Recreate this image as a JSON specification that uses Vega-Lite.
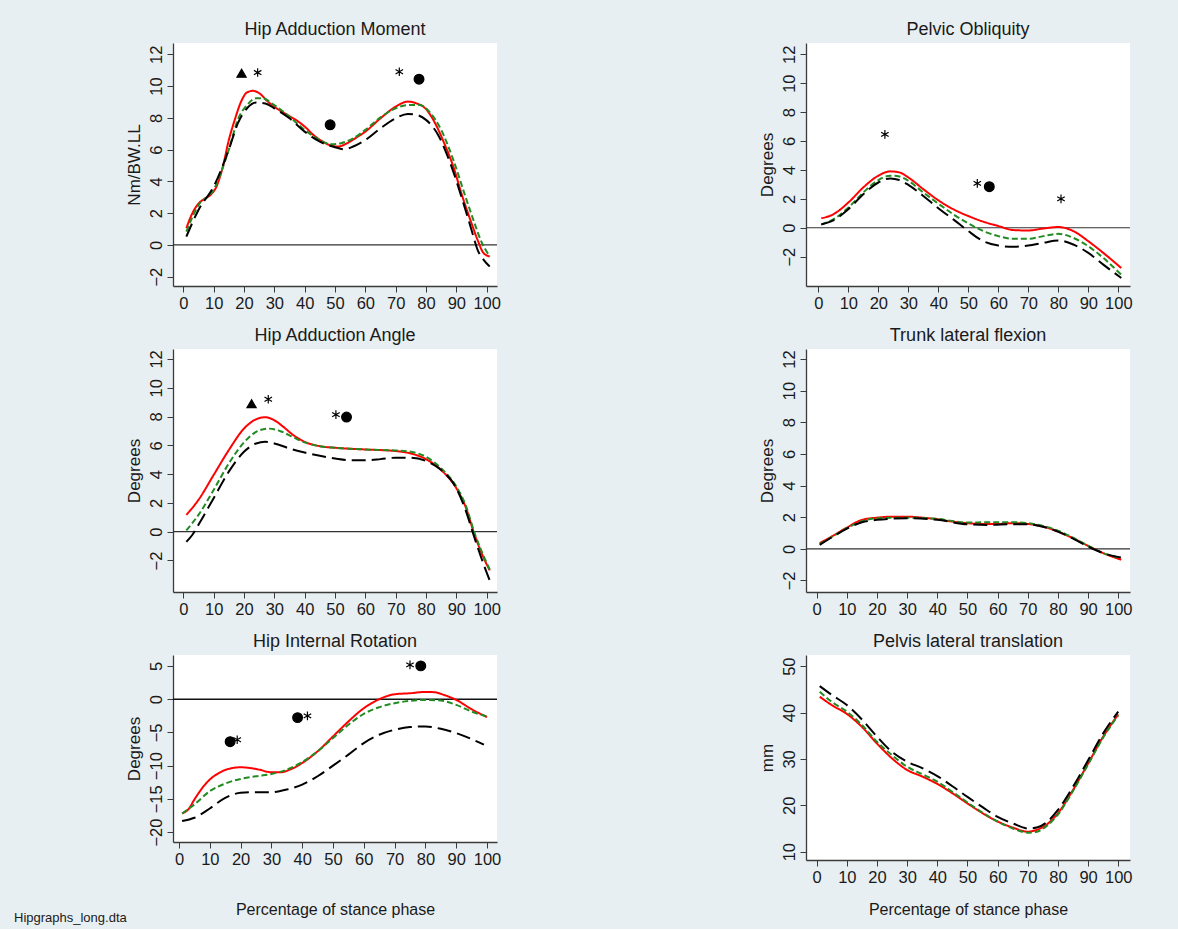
{
  "$schema": "https://vega.github.io/schema/vega-lite/v6.json",
  "background": "#e8eff2",
  "padding": {"left": 14, "top": 21, "right": 48, "bottom": 4},
  "title": {"text": "Hipgraphs_long.dta", "orient": "bottom", "anchor": "start", "fontSize": 13, "fontWeight": "normal", "color": "#1a1a1a", "dx": -111, "offset": -6},
  "datasets": {
    "p1": [
      {"x":1,"y":1.05,"g":"Group A"},{"x":3,"y":2.0,"g":"Group A"},{"x":5,"y":2.6,"g":"Group A"},{"x":7,"y":2.9,"g":"Group A"},{"x":9,"y":3.15,"g":"Group A"},{"x":11,"y":3.7,"g":"Group A"},{"x":13,"y":4.9,"g":"Group A"},{"x":15,"y":6.6,"g":"Group A"},{"x":17,"y":7.9,"g":"Group A"},{"x":19,"y":9.0,"g":"Group A"},{"x":21,"y":9.6,"g":"Group A"},{"x":23,"y":9.7,"g":"Group A"},{"x":25,"y":9.55,"g":"Group A"},{"x":28,"y":9.0,"g":"Group A"},{"x":30,"y":8.7,"g":"Group A"},{"x":35,"y":8.1,"g":"Group A"},{"x":38,"y":7.75,"g":"Group A"},{"x":40,"y":7.45,"g":"Group A"},{"x":43,"y":6.9,"g":"Group A"},{"x":46,"y":6.5,"g":"Group A"},{"x":49,"y":6.23,"g":"Group A"},{"x":51,"y":6.19,"g":"Group A"},{"x":54,"y":6.4,"g":"Group A"},{"x":57,"y":6.75,"g":"Group A"},{"x":60,"y":7.13,"g":"Group A"},{"x":65,"y":7.97,"g":"Group A"},{"x":70,"y":8.7,"g":"Group A"},{"x":74,"y":9.02,"g":"Group A"},{"x":77,"y":8.9,"g":"Group A"},{"x":80,"y":8.55,"g":"Group A"},{"x":83,"y":7.66,"g":"Group A"},{"x":86,"y":6.4,"g":"Group A"},{"x":89,"y":4.93,"g":"Group A"},{"x":92,"y":3.04,"g":"Group A"},{"x":95,"y":1.36,"g":"Group A"},{"x":97,"y":0.31,"g":"Group A"},{"x":99,"y":-0.52,"g":"Group A"},{"x":101,"y":-0.73,"g":"Group A"},
      {"x":1,"y":0.84,"g":"Group B"},{"x":5,"y":2.5,"g":"Group B"},{"x":10,"y":3.46,"g":"Group B"},{"x":15,"y":6.0,"g":"Group B"},{"x":18,"y":7.9,"g":"Group B"},{"x":21,"y":8.8,"g":"Group B"},{"x":24,"y":9.23,"g":"Group B"},{"x":26,"y":9.23,"g":"Group B"},{"x":30,"y":8.8,"g":"Group B"},{"x":35,"y":8.07,"g":"Group B"},{"x":40,"y":7.24,"g":"Group B"},{"x":45,"y":6.6,"g":"Group B"},{"x":49,"y":6.33,"g":"Group B"},{"x":52,"y":6.4,"g":"Group B"},{"x":56,"y":6.71,"g":"Group B"},{"x":60,"y":7.24,"g":"Group B"},{"x":65,"y":8.03,"g":"Group B"},{"x":70,"y":8.6,"g":"Group B"},{"x":74,"y":8.8,"g":"Group B"},{"x":78,"y":8.8,"g":"Group B"},{"x":81,"y":8.4,"g":"Group B"},{"x":85,"y":7.24,"g":"Group B"},{"x":89,"y":5.35,"g":"Group B"},{"x":93,"y":3.04,"g":"Group B"},{"x":96,"y":1.36,"g":"Group B"},{"x":98,"y":0.31,"g":"Group B"},{"x":101,"y":-0.73,"g":"Group B"},
      {"x":1,"y":0.52,"g":"Group C"},{"x":5,"y":2.2,"g":"Group C"},{"x":10,"y":3.67,"g":"Group C"},{"x":15,"y":6.0,"g":"Group C"},{"x":18,"y":7.66,"g":"Group C"},{"x":21,"y":8.6,"g":"Group C"},{"x":24,"y":8.96,"g":"Group C"},{"x":27,"y":8.9,"g":"Group C"},{"x":30,"y":8.6,"g":"Group C"},{"x":35,"y":7.97,"g":"Group C"},{"x":40,"y":7.13,"g":"Group C"},{"x":45,"y":6.5,"g":"Group C"},{"x":50,"y":6.15,"g":"Group C"},{"x":53,"y":6.02,"g":"Group C"},{"x":56,"y":6.19,"g":"Group C"},{"x":60,"y":6.6,"g":"Group C"},{"x":65,"y":7.34,"g":"Group C"},{"x":70,"y":7.97,"g":"Group C"},{"x":74,"y":8.24,"g":"Group C"},{"x":77,"y":8.18,"g":"Group C"},{"x":80,"y":7.87,"g":"Group C"},{"x":84,"y":6.92,"g":"Group C"},{"x":88,"y":5.14,"g":"Group C"},{"x":92,"y":2.83,"g":"Group C"},{"x":95,"y":0.94,"g":"Group C"},{"x":97,"y":-0.31,"g":"Group C"},{"x":99,"y":-0.94,"g":"Group C"},{"x":101,"y":-1.36,"g":"Group C"}
    ],
    "m1": [
      {"x":19.2,"y":10.81,"m":"triangle"},{"x":24.5,"y":10.85,"m":"asterisk"},{"x":48.4,"y":7.56,"m":"circle"},{"x":71.2,"y":10.9,"m":"asterisk"},{"x":77.7,"y":10.43,"m":"circle"}
    ],
    "p2": [
      {"x":1,"y":0.65,"g":"Group A"},{"x":5,"y":0.93,"g":"Group A"},{"x":10,"y":1.74,"g":"Group A"},{"x":15,"y":2.79,"g":"Group A"},{"x":20,"y":3.6,"g":"Group A"},{"x":24,"y":3.9,"g":"Group A"},{"x":27,"y":3.83,"g":"Group A"},{"x":30,"y":3.48,"g":"Group A"},{"x":35,"y":2.67,"g":"Group A"},{"x":40,"y":1.9,"g":"Group A"},{"x":45,"y":1.28,"g":"Group A"},{"x":50,"y":0.81,"g":"Group A"},{"x":55,"y":0.42,"g":"Group A"},{"x":60,"y":0.12,"g":"Group A"},{"x":65,"y":-0.16,"g":"Group A"},{"x":70,"y":-0.19,"g":"Group A"},{"x":75,"y":-0.05,"g":"Group A"},{"x":80,"y":0.05,"g":"Group A"},{"x":85,"y":-0.23,"g":"Group A"},{"x":90,"y":-0.93,"g":"Group A"},{"x":95,"y":-1.74,"g":"Group A"},{"x":101,"y":-2.79,"g":"Group A"},
      {"x":1,"y":0.23,"g":"Group B"},{"x":5,"y":0.58,"g":"Group B"},{"x":10,"y":1.39,"g":"Group B"},{"x":15,"y":2.44,"g":"Group B"},{"x":20,"y":3.3,"g":"Group B"},{"x":24,"y":3.6,"g":"Group B"},{"x":27,"y":3.55,"g":"Group B"},{"x":30,"y":3.25,"g":"Group B"},{"x":35,"y":2.44,"g":"Group B"},{"x":40,"y":1.67,"g":"Group B"},{"x":45,"y":0.93,"g":"Group B"},{"x":50,"y":0.3,"g":"Group B"},{"x":55,"y":-0.23,"g":"Group B"},{"x":60,"y":-0.58,"g":"Group B"},{"x":65,"y":-0.77,"g":"Group B"},{"x":70,"y":-0.77,"g":"Group B"},{"x":75,"y":-0.58,"g":"Group B"},{"x":80,"y":-0.42,"g":"Group B"},{"x":85,"y":-0.7,"g":"Group B"},{"x":90,"y":-1.28,"g":"Group B"},{"x":95,"y":-2.09,"g":"Group B"},{"x":101,"y":-3.25,"g":"Group B"},
      {"x":1,"y":0.23,"g":"Group C"},{"x":5,"y":0.51,"g":"Group C"},{"x":10,"y":1.28,"g":"Group C"},{"x":15,"y":2.32,"g":"Group C"},{"x":20,"y":3.13,"g":"Group C"},{"x":24,"y":3.41,"g":"Group C"},{"x":27,"y":3.3,"g":"Group C"},{"x":30,"y":2.97,"g":"Group C"},{"x":35,"y":2.2,"g":"Group C"},{"x":40,"y":1.35,"g":"Group C"},{"x":45,"y":0.58,"g":"Group C"},{"x":50,"y":-0.23,"g":"Group C"},{"x":55,"y":-0.93,"g":"Group C"},{"x":60,"y":-1.23,"g":"Group C"},{"x":65,"y":-1.32,"g":"Group C"},{"x":70,"y":-1.23,"g":"Group C"},{"x":75,"y":-1.04,"g":"Group C"},{"x":80,"y":-0.88,"g":"Group C"},{"x":85,"y":-1.16,"g":"Group C"},{"x":90,"y":-1.74,"g":"Group C"},{"x":95,"y":-2.55,"g":"Group C"},{"x":101,"y":-3.48,"g":"Group C"}
    ],
    "m2": [
      {"x":22.2,"y":6.46,"m":"asterisk"},{"x":53.0,"y":3.07,"m":"asterisk"},{"x":57.0,"y":2.84,"m":"circle"},{"x":80.9,"y":2.0,"m":"asterisk"}
    ],
    "p3": [
      {"x":1,"y":1.17,"g":"Group A"},{"x":5,"y":2.21,"g":"Group A"},{"x":10,"y":3.94,"g":"Group A"},{"x":15,"y":5.67,"g":"Group A"},{"x":20,"y":7.16,"g":"Group A"},{"x":24,"y":7.81,"g":"Group A"},{"x":27,"y":7.95,"g":"Group A"},{"x":30,"y":7.74,"g":"Group A"},{"x":33,"y":7.28,"g":"Group A"},{"x":36,"y":6.75,"g":"Group A"},{"x":40,"y":6.24,"g":"Group A"},{"x":45,"y":5.94,"g":"Group A"},{"x":50,"y":5.83,"g":"Group A"},{"x":60,"y":5.71,"g":"Group A"},{"x":70,"y":5.6,"g":"Group A"},{"x":75,"y":5.43,"g":"Group A"},{"x":80,"y":5.04,"g":"Group A"},{"x":85,"y":4.28,"g":"Group A"},{"x":90,"y":3.02,"g":"Group A"},{"x":93,"y":1.75,"g":"Group A"},{"x":96,"y":-0.21,"g":"Group A"},{"x":99,"y":-1.82,"g":"Group A"},{"x":101,"y":-2.69,"g":"Group A"},
      {"x":1,"y":0.09,"g":"Group B"},{"x":5,"y":1.17,"g":"Group B"},{"x":10,"y":2.9,"g":"Group B"},{"x":15,"y":4.74,"g":"Group B"},{"x":20,"y":6.2,"g":"Group B"},{"x":24,"y":6.93,"g":"Group B"},{"x":28,"y":7.16,"g":"Group B"},{"x":32,"y":6.98,"g":"Group B"},{"x":36,"y":6.59,"g":"Group B"},{"x":40,"y":6.2,"g":"Group B"},{"x":45,"y":5.94,"g":"Group B"},{"x":50,"y":5.83,"g":"Group B"},{"x":60,"y":5.71,"g":"Group B"},{"x":70,"y":5.64,"g":"Group B"},{"x":75,"y":5.55,"g":"Group B"},{"x":80,"y":5.2,"g":"Group B"},{"x":85,"y":4.4,"g":"Group B"},{"x":90,"y":3.13,"g":"Group B"},{"x":93,"y":1.87,"g":"Group B"},{"x":96,"y":-0.09,"g":"Group B"},{"x":99,"y":-1.7,"g":"Group B"},{"x":101,"y":-2.63,"g":"Group B"},
      {"x":1,"y":-0.71,"g":"Group C"},{"x":3,"y":-0.21,"g":"Group C"},{"x":5,"y":0.48,"g":"Group C"},{"x":10,"y":2.33,"g":"Group C"},{"x":15,"y":4.17,"g":"Group C"},{"x":20,"y":5.55,"g":"Group C"},{"x":24,"y":6.13,"g":"Group C"},{"x":27,"y":6.24,"g":"Group C"},{"x":30,"y":6.13,"g":"Group C"},{"x":35,"y":5.78,"g":"Group C"},{"x":40,"y":5.5,"g":"Group C"},{"x":45,"y":5.27,"g":"Group C"},{"x":50,"y":5.09,"g":"Group C"},{"x":55,"y":4.97,"g":"Group C"},{"x":60,"y":4.97,"g":"Group C"},{"x":65,"y":5.04,"g":"Group C"},{"x":70,"y":5.14,"g":"Group C"},{"x":75,"y":5.14,"g":"Group C"},{"x":80,"y":4.91,"g":"Group C"},{"x":85,"y":4.28,"g":"Group C"},{"x":90,"y":3.02,"g":"Group C"},{"x":93,"y":1.52,"g":"Group C"},{"x":96,"y":-0.44,"g":"Group C"},{"x":99,"y":-2.28,"g":"Group C"},{"x":101,"y":-3.39,"g":"Group C"}
    ],
    "m3": [
      {"x":22.5,"y":8.89,"m":"triangle"},{"x":28.0,"y":9.2,"m":"asterisk"},{"x":50.3,"y":8.13,"m":"asterisk"},{"x":53.8,"y":7.96,"m":"circle"}
    ],
    "p4": [
      {"x":1,"y":0.36,"g":"Group A"},{"x":5,"y":0.78,"g":"Group A"},{"x":10,"y":1.34,"g":"Group A"},{"x":15,"y":1.83,"g":"Group A"},{"x":20,"y":1.97,"g":"Group A"},{"x":25,"y":2.03,"g":"Group A"},{"x":30,"y":2.03,"g":"Group A"},{"x":35,"y":1.97,"g":"Group A"},{"x":40,"y":1.87,"g":"Group A"},{"x":45,"y":1.72,"g":"Group A"},{"x":50,"y":1.62,"g":"Group A"},{"x":55,"y":1.57,"g":"Group A"},{"x":60,"y":1.57,"g":"Group A"},{"x":65,"y":1.62,"g":"Group A"},{"x":70,"y":1.57,"g":"Group A"},{"x":75,"y":1.41,"g":"Group A"},{"x":80,"y":1.09,"g":"Group A"},{"x":85,"y":0.67,"g":"Group A"},{"x":90,"y":0.19,"g":"Group A"},{"x":95,"y":-0.27,"g":"Group A"},{"x":101,"y":-0.69,"g":"Group A"},
      {"x":1,"y":0.29,"g":"Group B"},{"x":5,"y":0.75,"g":"Group B"},{"x":10,"y":1.3,"g":"Group B"},{"x":15,"y":1.75,"g":"Group B"},{"x":20,"y":1.93,"g":"Group B"},{"x":30,"y":1.97,"g":"Group B"},{"x":40,"y":1.89,"g":"Group B"},{"x":50,"y":1.66,"g":"Group B"},{"x":57,"y":1.68,"g":"Group B"},{"x":65,"y":1.68,"g":"Group B"},{"x":70,"y":1.62,"g":"Group B"},{"x":75,"y":1.45,"g":"Group B"},{"x":80,"y":1.15,"g":"Group B"},{"x":85,"y":0.7,"g":"Group B"},{"x":90,"y":0.19,"g":"Group B"},{"x":95,"y":-0.27,"g":"Group B"},{"x":101,"y":-0.59,"g":"Group B"},
      {"x":1,"y":0.25,"g":"Group C"},{"x":5,"y":0.72,"g":"Group C"},{"x":10,"y":1.28,"g":"Group C"},{"x":15,"y":1.68,"g":"Group C"},{"x":20,"y":1.83,"g":"Group C"},{"x":30,"y":1.93,"g":"Group C"},{"x":40,"y":1.83,"g":"Group C"},{"x":50,"y":1.55,"g":"Group C"},{"x":57,"y":1.51,"g":"Group C"},{"x":65,"y":1.55,"g":"Group C"},{"x":70,"y":1.55,"g":"Group C"},{"x":75,"y":1.4,"g":"Group C"},{"x":80,"y":1.09,"g":"Group C"},{"x":85,"y":0.65,"g":"Group C"},{"x":90,"y":0.15,"g":"Group C"},{"x":95,"y":-0.27,"g":"Group C"},{"x":101,"y":-0.55,"g":"Group C"}
    ],
    "p5": [
      {"x":1,"y":-17.2,"g":"Group A"},{"x":3,"y":-16.6,"g":"Group A"},{"x":5,"y":-15.1,"g":"Group A"},{"x":8,"y":-13.1,"g":"Group A"},{"x":10,"y":-12.1,"g":"Group A"},{"x":13,"y":-11.1,"g":"Group A"},{"x":16,"y":-10.5,"g":"Group A"},{"x":20,"y":-10.25,"g":"Group A"},{"x":23,"y":-10.35,"g":"Group A"},{"x":26,"y":-10.6,"g":"Group A"},{"x":30,"y":-11.0,"g":"Group A"},{"x":33,"y":-11.0,"g":"Group A"},{"x":36,"y":-10.6,"g":"Group A"},{"x":40,"y":-9.6,"g":"Group A"},{"x":45,"y":-7.85,"g":"Group A"},{"x":50,"y":-5.6,"g":"Group A"},{"x":55,"y":-3.35,"g":"Group A"},{"x":60,"y":-1.35,"g":"Group A"},{"x":65,"y":0.0,"g":"Group A"},{"x":70,"y":0.75,"g":"Group A"},{"x":75,"y":0.9,"g":"Group A"},{"x":80,"y":1.1,"g":"Group A"},{"x":83,"y":1.05,"g":"Group A"},{"x":86,"y":0.65,"g":"Group A"},{"x":90,"y":-0.1,"g":"Group A"},{"x":95,"y":-1.5,"g":"Group A"},{"x":100,"y":-2.7,"g":"Group A"},
      {"x":1,"y":-17.2,"g":"Group B"},{"x":5,"y":-15.85,"g":"Group B"},{"x":10,"y":-13.85,"g":"Group B"},{"x":15,"y":-12.7,"g":"Group B"},{"x":20,"y":-12.0,"g":"Group B"},{"x":25,"y":-11.6,"g":"Group B"},{"x":30,"y":-11.25,"g":"Group B"},{"x":35,"y":-10.6,"g":"Group B"},{"x":40,"y":-9.45,"g":"Group B"},{"x":45,"y":-7.85,"g":"Group B"},{"x":50,"y":-5.85,"g":"Group B"},{"x":55,"y":-3.85,"g":"Group B"},{"x":60,"y":-2.2,"g":"Group B"},{"x":65,"y":-1.2,"g":"Group B"},{"x":70,"y":-0.6,"g":"Group B"},{"x":75,"y":-0.25,"g":"Group B"},{"x":80,"y":-0.1,"g":"Group B"},{"x":85,"y":-0.2,"g":"Group B"},{"x":90,"y":-0.85,"g":"Group B"},{"x":95,"y":-1.85,"g":"Group B"},{"x":100,"y":-2.6,"g":"Group B"},
      {"x":1,"y":-18.35,"g":"Group C"},{"x":5,"y":-17.85,"g":"Group C"},{"x":10,"y":-16.45,"g":"Group C"},{"x":15,"y":-14.85,"g":"Group C"},{"x":20,"y":-14.1,"g":"Group C"},{"x":25,"y":-14.0,"g":"Group C"},{"x":30,"y":-14.0,"g":"Group C"},{"x":35,"y":-13.6,"g":"Group C"},{"x":40,"y":-12.85,"g":"Group C"},{"x":45,"y":-11.6,"g":"Group C"},{"x":50,"y":-10.0,"g":"Group C"},{"x":55,"y":-8.35,"g":"Group C"},{"x":60,"y":-6.6,"g":"Group C"},{"x":65,"y":-5.35,"g":"Group C"},{"x":70,"y":-4.6,"g":"Group C"},{"x":75,"y":-4.2,"g":"Group C"},{"x":80,"y":-4.1,"g":"Group C"},{"x":85,"y":-4.45,"g":"Group C"},{"x":90,"y":-5.1,"g":"Group C"},{"x":95,"y":-6.0,"g":"Group C"},{"x":99,"y":-6.85,"g":"Group C"}
    ],
    "m5": [
      {"x":16.6,"y":-6.4,"m":"circle"},{"x":18.9,"y":-6.1,"m":"asterisk"},{"x":38.5,"y":-2.77,"m":"circle"},{"x":41.7,"y":-2.5,"m":"asterisk"},{"x":75.0,"y":5.17,"m":"asterisk"},{"x":78.5,"y":5.02,"m":"circle"}
    ],
    "p6": [
      {"x":1,"y":43.4,"g":"Group A"},{"x":5,"y":41.6,"g":"Group A"},{"x":10,"y":39.7,"g":"Group A"},{"x":15,"y":36.9,"g":"Group A"},{"x":20,"y":33.3,"g":"Group A"},{"x":25,"y":30.1,"g":"Group A"},{"x":30,"y":27.6,"g":"Group A"},{"x":35,"y":26.2,"g":"Group A"},{"x":40,"y":24.6,"g":"Group A"},{"x":45,"y":22.6,"g":"Group A"},{"x":50,"y":20.4,"g":"Group A"},{"x":55,"y":18.3,"g":"Group A"},{"x":60,"y":16.5,"g":"Group A"},{"x":65,"y":15.2,"g":"Group A"},{"x":70,"y":14.3,"g":"Group A"},{"x":73,"y":14.7,"g":"Group A"},{"x":76,"y":15.7,"g":"Group A"},{"x":80,"y":18.3,"g":"Group A"},{"x":85,"y":23.3,"g":"Group A"},{"x":90,"y":29.0,"g":"Group A"},{"x":95,"y":34.8,"g":"Group A"},{"x":100,"y":39.6,"g":"Group A"},
      {"x":1,"y":44.5,"g":"Group B"},{"x":5,"y":42.3,"g":"Group B"},{"x":10,"y":40.2,"g":"Group B"},{"x":15,"y":37.3,"g":"Group B"},{"x":20,"y":33.7,"g":"Group B"},{"x":25,"y":30.8,"g":"Group B"},{"x":30,"y":28.3,"g":"Group B"},{"x":35,"y":26.7,"g":"Group B"},{"x":40,"y":25.1,"g":"Group B"},{"x":45,"y":22.9,"g":"Group B"},{"x":50,"y":20.6,"g":"Group B"},{"x":55,"y":18.4,"g":"Group B"},{"x":60,"y":16.5,"g":"Group B"},{"x":65,"y":15.0,"g":"Group B"},{"x":70,"y":14.1,"g":"Group B"},{"x":73,"y":14.3,"g":"Group B"},{"x":76,"y":15.4,"g":"Group B"},{"x":80,"y":18.0,"g":"Group B"},{"x":85,"y":23.1,"g":"Group B"},{"x":90,"y":28.8,"g":"Group B"},{"x":95,"y":34.6,"g":"Group B"},{"x":100,"y":39.4,"g":"Group B"},
      {"x":1,"y":45.7,"g":"Group C"},{"x":5,"y":43.8,"g":"Group C"},{"x":10,"y":41.6,"g":"Group C"},{"x":15,"y":38.5,"g":"Group C"},{"x":20,"y":34.8,"g":"Group C"},{"x":25,"y":31.5,"g":"Group C"},{"x":30,"y":29.4,"g":"Group C"},{"x":35,"y":28.0,"g":"Group C"},{"x":40,"y":26.3,"g":"Group C"},{"x":45,"y":24.1,"g":"Group C"},{"x":50,"y":21.8,"g":"Group C"},{"x":55,"y":19.6,"g":"Group C"},{"x":60,"y":17.5,"g":"Group C"},{"x":65,"y":16.1,"g":"Group C"},{"x":70,"y":15.0,"g":"Group C"},{"x":73,"y":15.2,"g":"Group C"},{"x":76,"y":16.2,"g":"Group C"},{"x":80,"y":19.0,"g":"Group C"},{"x":85,"y":24.0,"g":"Group C"},{"x":90,"y":29.7,"g":"Group C"},{"x":95,"y":35.5,"g":"Group C"},{"x":100,"y":40.2,"g":"Group C"}
    ]
  },
  "concat": [
    {
      "width": 324, "height": 243,
      "title": "Hip Adduction Moment",
      "layer": [
        {"data": {"values": [{}]}, "mark": {"type": "rule", "color": "#333333", "strokeWidth": 1.2},
         "encoding": {"y": {"datum": 0, "type": "quantitative", "scale": {"domain": [-2.59, 12.71], "nice": false, "zero": false}, "axis": {"values": [-2,0,2,4,6,8,10,12], "title": "Nm/BW.LL", "labelOverlap": false}}}},
        {"data": {"name": "p1"}, "mark": {"type": "line", "interpolate": "monotone", "strokeWidth": 2},
         "encoding": {
           "x": {"field": "x", "type": "quantitative", "scale": {"domain": [-3.4, 103.4], "nice": false, "zero": false}, "axis": {"values": [0,10,20,30,40,50,60,70,80,90,100], "title": null, "labelOverlap": false}},
           "y": {"field": "y", "type": "quantitative", "scale": {"domain": [-2.59, 12.71], "nice": false, "zero": false}, "axis": {"values": [-2,0,2,4,6,8,10,12], "title": "Nm/BW.LL", "labelOverlap": false}},
           "color": {"field": "g", "type": "nominal", "scale": {"domain": ["Group A","Group B","Group C"], "range": ["#ff0000","#228b22","#000000"]}, "legend": null},
           "strokeDash": {"field": "g", "type": "nominal", "scale": {"domain": ["Group A","Group B","Group C"], "range": [[1,0],[6,3],[14,6]]}, "legend": null}}},
        {"data": {"name": "m1"}, "mark": {"type": "point", "filled": true, "fill": "black", "stroke": "black", "strokeWidth": 1.2, "opacity": 1},
         "encoding": {
           "x": {"field": "x", "type": "quantitative", "scale": {"domain": [-3.4, 103.4], "nice": false, "zero": false}, "axis": {"values": [0,10,20,30,40,50,60,70,80,90,100], "title": null, "labelOverlap": false}},
           "y": {"field": "y", "type": "quantitative", "scale": {"domain": [-2.59, 12.71], "nice": false, "zero": false}, "axis": {"values": [-2,0,2,4,6,8,10,12], "title": "Nm/BW.LL", "labelOverlap": false}},
           "shape": {"field": "m", "type": "nominal", "scale": {"domain": ["circle","triangle","asterisk"], "range": ["circle","triangle-up","M0,-1L0,1M-0.866,-0.5L0.866,0.5M-0.866,0.5L0.866,-0.5"]}, "legend": null},
           "size": {"field": "m", "type": "nominal", "scale": {"domain": ["circle","triangle","asterisk"], "range": [95,75,45]}, "legend": null}}}
      ]
    },
    {
      "width": 324, "height": 243,
      "title": "Pelvic Obliquity",
      "layer": [
        {"data": {"values": [{}]}, "mark": {"type": "rule", "color": "#333333", "strokeWidth": 1.2},
         "encoding": {"y": {"datum": 0, "type": "quantitative", "scale": {"domain": [-4.03, 12.78], "nice": false, "zero": false}, "axis": {"values": [-2,0,2,4,6,8,10,12], "title": "Degrees", "labelOverlap": false}}}},
        {"data": {"name": "p2"}, "mark": {"type": "line", "interpolate": "monotone", "strokeWidth": 2},
         "encoding": {
           "x": {"field": "x", "type": "quantitative", "scale": {"domain": [-4.1, 103.9], "nice": false, "zero": false}, "axis": {"values": [0,10,20,30,40,50,60,70,80,90,100], "title": null, "labelOverlap": false}},
           "y": {"field": "y", "type": "quantitative", "scale": {"domain": [-4.03, 12.78], "nice": false, "zero": false}, "axis": {"values": [-2,0,2,4,6,8,10,12], "title": "Degrees", "labelOverlap": false}},
           "color": {"field": "g", "type": "nominal", "scale": {"domain": ["Group A","Group B","Group C"], "range": ["#ff0000","#228b22","#000000"]}, "legend": null},
           "strokeDash": {"field": "g", "type": "nominal", "scale": {"domain": ["Group A","Group B","Group C"], "range": [[1,0],[6,3],[14,6]]}, "legend": null}}},
        {"data": {"name": "m2"}, "mark": {"type": "point", "filled": true, "fill": "black", "stroke": "black", "strokeWidth": 1.2, "opacity": 1},
         "encoding": {
           "x": {"field": "x", "type": "quantitative", "scale": {"domain": [-4.1, 103.9], "nice": false, "zero": false}, "axis": {"values": [0,10,20,30,40,50,60,70,80,90,100], "title": null, "labelOverlap": false}},
           "y": {"field": "y", "type": "quantitative", "scale": {"domain": [-4.03, 12.78], "nice": false, "zero": false}, "axis": {"values": [-2,0,2,4,6,8,10,12], "title": "Degrees", "labelOverlap": false}},
           "shape": {"field": "m", "type": "nominal", "scale": {"domain": ["circle","triangle","asterisk"], "range": ["circle","triangle-up","M0,-1L0,1M-0.866,-0.5L0.866,0.5M-0.866,0.5L0.866,-0.5"]}, "legend": null},
           "size": {"field": "m", "type": "nominal", "scale": {"domain": ["circle","triangle","asterisk"], "range": [95,75,45]}, "legend": null}}}
      ]
    },
    {
      "width": 324, "height": 243,
      "title": "Hip Adduction Angle",
      "layer": [
        {"data": {"values": [{}]}, "mark": {"type": "rule", "color": "#333333", "strokeWidth": 1.2},
         "encoding": {"y": {"datum": 0, "type": "quantitative", "scale": {"domain": [-4.19, 12.69], "nice": false, "zero": false}, "axis": {"values": [-2,0,2,4,6,8,10,12], "title": "Degrees", "labelOverlap": false}}}},
        {"data": {"name": "p3"}, "mark": {"type": "line", "interpolate": "monotone", "strokeWidth": 2},
         "encoding": {
           "x": {"field": "x", "type": "quantitative", "scale": {"domain": [-3.4, 103.4], "nice": false, "zero": false}, "axis": {"values": [0,10,20,30,40,50,60,70,80,90,100], "title": null, "labelOverlap": false}},
           "y": {"field": "y", "type": "quantitative", "scale": {"domain": [-4.19, 12.69], "nice": false, "zero": false}, "axis": {"values": [-2,0,2,4,6,8,10,12], "title": "Degrees", "labelOverlap": false}},
           "color": {"field": "g", "type": "nominal", "scale": {"domain": ["Group A","Group B","Group C"], "range": ["#ff0000","#228b22","#000000"]}, "legend": null},
           "strokeDash": {"field": "g", "type": "nominal", "scale": {"domain": ["Group A","Group B","Group C"], "range": [[1,0],[6,3],[14,6]]}, "legend": null}}},
        {"data": {"name": "m3"}, "mark": {"type": "point", "filled": true, "fill": "black", "stroke": "black", "strokeWidth": 1.2, "opacity": 1},
         "encoding": {
           "x": {"field": "x", "type": "quantitative", "scale": {"domain": [-3.4, 103.4], "nice": false, "zero": false}, "axis": {"values": [0,10,20,30,40,50,60,70,80,90,100], "title": null, "labelOverlap": false}},
           "y": {"field": "y", "type": "quantitative", "scale": {"domain": [-4.19, 12.69], "nice": false, "zero": false}, "axis": {"values": [-2,0,2,4,6,8,10,12], "title": "Degrees", "labelOverlap": false}},
           "shape": {"field": "m", "type": "nominal", "scale": {"domain": ["circle","triangle","asterisk"], "range": ["circle","triangle-up","M0,-1L0,1M-0.866,-0.5L0.866,0.5M-0.866,0.5L0.866,-0.5"]}, "legend": null},
           "size": {"field": "m", "type": "nominal", "scale": {"domain": ["circle","triangle","asterisk"], "range": [95,75,45]}, "legend": null}}}
      ]
    },
    {
      "width": 324, "height": 243,
      "title": "Trunk lateral flexion",
      "layer": [
        {"data": {"values": [{}]}, "mark": {"type": "rule", "color": "#333333", "strokeWidth": 1.2},
         "encoding": {"y": {"datum": 0, "type": "quantitative", "scale": {"domain": [-2.73, 12.63], "nice": false, "zero": false}, "axis": {"values": [-2,0,2,4,6,8,10,12], "title": "Degrees", "labelOverlap": false}}}},
        {"data": {"name": "p4"}, "mark": {"type": "line", "interpolate": "monotone", "strokeWidth": 2},
         "encoding": {
           "x": {"field": "x", "type": "quantitative", "scale": {"domain": [-3.55, 103.9], "nice": false, "zero": false}, "axis": {"values": [0,10,20,30,40,50,60,70,80,90,100], "title": null, "labelOverlap": false}},
           "y": {"field": "y", "type": "quantitative", "scale": {"domain": [-2.73, 12.63], "nice": false, "zero": false}, "axis": {"values": [-2,0,2,4,6,8,10,12], "title": "Degrees", "labelOverlap": false}},
           "color": {"field": "g", "type": "nominal", "scale": {"domain": ["Group A","Group B","Group C"], "range": ["#ff0000","#228b22","#000000"]}, "legend": null},
           "strokeDash": {"field": "g", "type": "nominal", "scale": {"domain": ["Group A","Group B","Group C"], "range": [[1,0],[6,3],[14,6]]}, "legend": null}}}
      ]
    },
    {
      "width": 324, "height": 187,
      "title": "Hip Internal Rotation",
      "layer": [
        {"data": {"values": [{}]}, "mark": {"type": "rule", "color": "#111111", "strokeWidth": 1.3},
         "encoding": {"y": {"datum": 0, "type": "quantitative", "scale": {"domain": [-21.5, 6.66], "nice": false, "zero": false}, "axis": {"values": [-20,-15,-10,-5,0,5], "title": "Degrees", "labelOverlap": false}}}},
        {"data": {"name": "p5"}, "mark": {"type": "line", "interpolate": "monotone", "strokeWidth": 2},
         "encoding": {
           "x": {"field": "x", "type": "quantitative", "scale": {"domain": [-1.95, 103.25], "nice": false, "zero": false}, "axis": {"values": [0,10,20,30,40,50,60,70,80,90,100], "title": "Percentage of stance phase", "titlePadding": 34, "titleFontSize": 16, "labelOverlap": false}},
           "y": {"field": "y", "type": "quantitative", "scale": {"domain": [-21.5, 6.66], "nice": false, "zero": false}, "axis": {"values": [-20,-15,-10,-5,0,5], "title": "Degrees", "labelOverlap": false}},
           "color": {"field": "g", "type": "nominal", "scale": {"domain": ["Group A","Group B","Group C"], "range": ["#ff0000","#228b22","#000000"]}, "legend": null},
           "strokeDash": {"field": "g", "type": "nominal", "scale": {"domain": ["Group A","Group B","Group C"], "range": [[1,0],[6,3],[14,6]]}, "legend": null}}},
        {"data": {"name": "m5"}, "mark": {"type": "point", "filled": true, "fill": "black", "stroke": "black", "strokeWidth": 1.2, "opacity": 1},
         "encoding": {
           "x": {"field": "x", "type": "quantitative", "scale": {"domain": [-1.95, 103.25], "nice": false, "zero": false}, "axis": {"values": [0,10,20,30,40,50,60,70,80,90,100], "title": "Percentage of stance phase", "titlePadding": 34, "titleFontSize": 16, "labelOverlap": false}},
           "y": {"field": "y", "type": "quantitative", "scale": {"domain": [-21.5, 6.66], "nice": false, "zero": false}, "axis": {"values": [-20,-15,-10,-5,0,5], "title": "Degrees", "labelOverlap": false}},
           "shape": {"field": "m", "type": "nominal", "scale": {"domain": ["circle","triangle","asterisk"], "range": ["circle","triangle-up","M0,-1L0,1M-0.866,-0.5L0.866,0.5M-0.866,0.5L0.866,-0.5"]}, "legend": null},
           "size": {"field": "m", "type": "nominal", "scale": {"domain": ["circle","triangle","asterisk"], "range": [95,75,45]}, "legend": null}}}
      ]
    },
    {
      "width": 324, "height": 205,
      "title": "Pelvis lateral translation",
      "layer": [
        {"data": {"name": "p6"}, "mark": {"type": "line", "interpolate": "monotone", "strokeWidth": 2},
         "encoding": {
           "x": {"field": "x", "type": "quantitative", "scale": {"domain": [-3.55, 103.9], "nice": false, "zero": false}, "axis": {"values": [0,10,20,30,40,50,60,70,80,90,100], "title": "Percentage of stance phase", "titlePadding": 16, "titleFontSize": 16, "labelOverlap": false}},
           "y": {"field": "y", "type": "quantitative", "scale": {"domain": [8.2, 52.4], "nice": false, "zero": false}, "axis": {"values": [10,20,30,40,50], "title": "mm", "labelOverlap": false}},
           "color": {"field": "g", "type": "nominal", "scale": {"domain": ["Group A","Group B","Group C"], "range": ["#ff0000","#228b22","#000000"]}, "legend": null},
           "strokeDash": {"field": "g", "type": "nominal", "scale": {"domain": ["Group A","Group B","Group C"], "range": [[1,0],[6,3],[14,6]]}, "legend": null}}}
      ]
    }
  ],
  "columns": 2,
  "spacing": {"row": 63, "column": 309},
  "bounds": "flush",
  "resolve": {"scale": {"color": "shared", "strokeDash": "shared"}},
  "config": {
    "font": "Liberation Sans",
    "view": {"fill": "white", "stroke": null},
    "axis": {"grid": false, "domainColor": "#3b3b3b", "domainWidth": 1.3, "tickColor": "#3b3b3b", "tickSize": 6, "tickWidth": 1, "labelFontSize": 16.5, "labelColor": "#1a1a1a", "labelPadding": 3, "labelOverlap": false, "labelFlush": false, "titleFontSize": 17, "titleFontWeight": "normal", "titleColor": "#1a1a1a"},
    "axisY": {"labelAngle": -90, "labelAlign": "center", "labelBaseline": "bottom", "titlePadding": 5},
    "title": {"fontSize": 18, "fontWeight": "normal", "color": "#1a1a1a", "offset": 4}
  }
}
